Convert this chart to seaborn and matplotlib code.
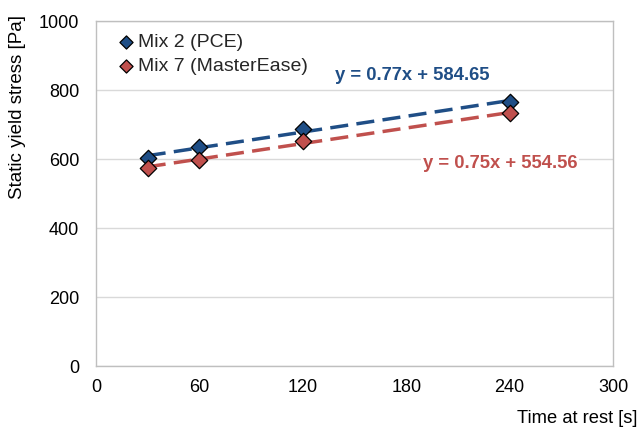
import numpy as np
import pandas as pd
import matplotlib
matplotlib.use("Agg")
import matplotlib.pyplot as plt
import seaborn as sns
from matplotlib.ticker import MultipleLocator

time_s = [30, 60, 120, 240]
mix2_pce = [602, 635, 688, 765]
mix7_masterease = [575, 598, 652, 732]
series_names = ["Mix 2 (PCE)", "Mix 7 (MasterEase)"]
eq_labels = ["y = 0.77x + 584.65", "y = 0.75x + 554.56"]
colors = ["#1F4E86", "#C0504D"]

sns.set_theme(style="white")
plt.rcParams['font.family'] = ['Liberation Sans', 'DejaVu Sans']

df = pd.DataFrame({
    "time": time_s * 2,
    "stress": mix2_pce + mix7_masterease,
    "series": [series_names[0]] * 4 + [series_names[1]] * 4,
})

fig = plt.figure(figsize=(6.4, 4.3), dpi=100)
ax = fig.add_axes([0.15, 0.1488, 0.8078, 0.8023])

for name, col in zip(series_names, colors):
    sub = df[df.series == name]
    sns.regplot(data=sub, x="time", y="stress", ax=ax, ci=None, scatter=False,
                line_kws=dict(color=col, lw=2.5, ls=(0, (5.2, 2.4)), zorder=2))
for name, col in zip(series_names, colors):
    sub = df[df.series == name]
    sns.scatterplot(data=sub, x="time", y="stress", ax=ax, marker="D", s=70,
                    color=col, edgecolor="black", linewidth=0.9, zorder=3, label=name)

ax.set_xlim(0, 300)
ax.set_ylim(0, 1000)
ax.xaxis.set_major_locator(MultipleLocator(60))
ax.xaxis.set_minor_locator(MultipleLocator(30))
ax.yaxis.set_major_locator(MultipleLocator(200))
ax.yaxis.set_minor_locator(MultipleLocator(100))
ax.grid(axis="y", which="major", color="#D9D9D9", lw=1)
ax.set_axisbelow(True)
for s in ax.spines.values():
    s.set_color("#BFBFBF")
    s.set_linewidth(1)
ax.tick_params(axis="both", which="both", direction="in", color="#BFBFBF",
               labelsize=13, labelcolor="black")
ax.tick_params(axis="both", which="major", length=4)
ax.tick_params(axis="both", which="minor", length=3)
ax.tick_params(axis="x", pad=9)
ax.tick_params(axis="y", pad=12)
ax.set_xlabel("Time at rest [s]", fontsize=13.2, color="black")
ax.xaxis.set_label_coords(1.048, -0.151)
ax.xaxis.label.set_horizontalalignment("right")
ax.xaxis.label.set_verticalalignment("center")
ax.set_ylabel("Static yield stress [Pa]", fontsize=13.5, color="black")
ax.yaxis.set_label_coords(-0.151, 0.75)
ax.yaxis.label.set_verticalalignment("center")

leg = ax.legend(loc="upper left", bbox_to_anchor=(0.015, 1.0), frameon=False,
                fontsize=14, handletextpad=0.1, borderaxespad=0.25,
                labelspacing=0.3, handlelength=1.0, markerscale=0.8)

ax.text(0.462, 0.843, eq_labels[0], transform=ax.transAxes, color=colors[0],
        fontsize=13.2, fontweight="bold", ha="left", va="center")
ax.text(0.632, 0.588, eq_labels[1], transform=ax.transAxes, color=colors[1],
        fontsize=13.2, fontweight="bold", ha="left", va="center",
        bbox=dict(facecolor="white", edgecolor="none", pad=1))

fig.savefig("out.png", dpi=100)
